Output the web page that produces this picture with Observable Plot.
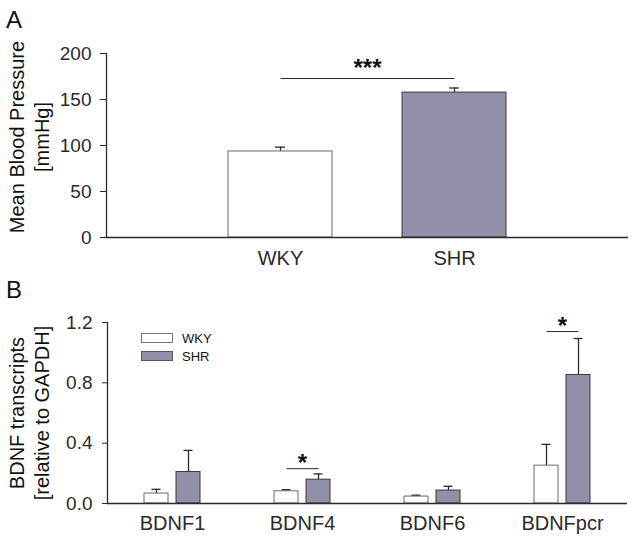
<!DOCTYPE html>
<html><head><meta charset="utf-8">
<script src="https://cdn.jsdelivr.net/npm/d3@7"></script>
<script src="https://cdn.jsdelivr.net/npm/@observablehq/plot@0.6"></script>
<style>
body{margin:0;background:#fff;}
#wrap{position:relative;width:635px;height:542px;font-family:"Liberation Sans",Arial,sans-serif;color:#111;overflow:hidden;}
.abs{position:absolute;}
.letter{position:absolute;font-size:24px;line-height:1;}
.ylab{position:absolute;width:260px;height:50px;transform:rotate(-90deg);text-align:center;font-size:20px;line-height:25px;white-space:nowrap;}
.lbox{position:absolute;width:32px;height:10px;box-sizing:border-box;border:1px solid #666;}
.ltxt{position:absolute;font-size:13px;line-height:1;}
svg{overflow:visible;}
</style></head><body>
<div id="wrap">
  <div class="letter" style="left:6px;top:8px;">A</div>
  <div class="letter" style="left:6px;top:278px;">B</div>
  <div class="ylab" style="left:-100px;top:112px;">Mean Blood Pressure<br>[mmHg]</div>
  <div class="ylab" style="left:-100px;top:388px;">BDNF transcripts<br>[relative to GAPDH]</div>
  <div id="pa" class="abs" style="left:0;top:0;"></div>
  <div id="pb" class="abs" style="left:0;top:270px;"></div>
  <div class="lbox" style="left:141px;top:333px;background:#fff;border-color:#777;"></div>
  <div class="lbox" style="left:141px;top:351px;background:#9090a8;border-color:#555;"></div>
  <div class="ltxt" style="left:182px;top:332px;">WKY</div>
  <div class="ltxt" style="left:182px;top:350px;">SHR</div>
</div>
<script>
// ---- Panel A data ----
const groupsA = ["WKY", "SHR"];
const meanBP = [93.5, 157.5];
const semBP = [4.7, 5.0];
const yTicksA = [0, 50, 100, 150, 200];
const sigAFrom = ["WKY"], sigATo = ["SHR"], sigAY = [172.8], sigALabel = ["***"];

// ---- Panel B data ----
const genes = ["BDNF1", "BDNF4", "BDNF6", "BDNFpcr"];
const strains = ["WKY", "SHR"];
const wkyVal = [0.066, 0.081, 0.046, 0.251];
const wkyErr = [0.028, 0.011, 0.009, 0.141];
const shrVal = [0.209, 0.158, 0.086, 0.852];
const shrErr = [0.143, 0.038, 0.028, 0.242];
const yTicksB = [0, 0.4, 0.8, 1.2];
const sigBGene = ["BDNF4", "BDNFpcr"], sigBY = [0.231, 1.14], sigBLabel = ["*", "*"];

// ---- styles ----
const fillOf = {WKY: "#ffffff", SHR: "#9090a8"};
const strokeOf = {WKY: "#6a6a6a", SHR: "#3a3a3a"};
const ink = "#2a2a2a";
const font = "Liberation Sans, Arial, sans-serif";

const dataA = groupsA.map((g, i) => ({group: g, mean: meanBP[i], sem: semBP[i]}));
const sigA = sigAY.map((y, i) => ({from: sigAFrom[i], to: sigATo[i], y, label: sigALabel[i]}));

const plotA = Plot.plot({
  width: 635, height: 270,
  marginTop: 53, marginBottom: 33, marginLeft: 106, marginRight: 7,
  style: {fontFamily: font, color: ink, background: "transparent", overflow: "visible"},
  x: {type: "band", domain: groupsA, paddingInner: 0.4, paddingOuter: 0.7, axis: null},
  y: {domain: [0, 200], axis: null},
  color: {type: "identity"},
  marks: [
    Plot.ruleX(dataA, {x: "group", y1: "mean", y2: d => d.mean + d.sem, stroke: ink, strokeWidth: 1.3}),
    Plot.tickY(dataA, {x: "group", y: d => d.mean + d.sem, stroke: ink, strokeWidth: 1.3, insetLeft: 47, insetRight: 47}),
    Plot.barY(dataA, {x: "group", y: "mean", fill: d => fillOf[d.group], stroke: d => strokeOf[d.group], strokeWidth: 1}),
    Plot.ruleY([0], {stroke: ink, strokeWidth: 1.3}),
    Plot.frame({anchor: "left", stroke: ink, strokeWidth: 1.3}),
    Plot.axisY({ticks: yTicksA, tickSize: 6, tickPadding: 9, fontSize: 19, label: null}),
    Plot.axisX({tickSize: 0, tickPadding: 13, fontSize: 20, label: null}),
    Plot.link(sigA, {x1: "from", x2: "to", y1: "y", y2: "y", stroke: ink, strokeWidth: 1}),
    Plot.text(sigA, {y: "y", text: "label", frameAnchor: "middle", lineAnchor: "bottom", dy: -3, fontSize: 24, fontWeight: "bold", fill: "#111"})
  ]
});
document.getElementById("pa").appendChild(plotA);

const dataB = genes.flatMap((g, i) => [
  {gene: g, strain: "WKY", value: wkyVal[i], err: wkyErr[i]},
  {gene: g, strain: "SHR", value: shrVal[i], err: shrErr[i]}
]);
const sigB = sigBGene.map((g, i) => ({gene: g, from: "WKY", to: "SHR", y: sigBY[i], label: sigBLabel[i]}));

const plotB = Plot.plot({
  width: 635, height: 272,
  marginTop: 52, marginBottom: 39, marginLeft: 105, marginRight: 7,
  style: {fontFamily: font, color: ink, background: "transparent", overflow: "visible"},
  fx: {domain: genes, paddingInner: 0, paddingOuter: 0},
  x: {domain: strains, paddingInner: 0.24, paddingOuter: 1.1, axis: null},
  y: {domain: [0, 1.2], axis: null},
  color: {type: "identity"},
  marks: [
    Plot.ruleX(dataB, {fx: "gene", x: "strain", y1: "value", y2: d => d.value + d.err, stroke: ink, strokeWidth: 1.3}),
    Plot.tickY(dataB, {fx: "gene", x: "strain", y: d => d.value + d.err, stroke: ink, strokeWidth: 1.3, insetLeft: 7.5, insetRight: 7.5}),
    Plot.barY(dataB, {fx: "gene", x: "strain", y: "value", fill: d => fillOf[d.strain], stroke: d => strokeOf[d.strain], strokeWidth: 1}),
    Plot.ruleY([0], {stroke: ink, strokeWidth: 1.3}),
    Plot.frame({anchor: "left", facetAnchor: "left", stroke: ink, strokeWidth: 1.3}),
    Plot.axisY({ticks: yTicksB, tickFormat: d => d.toFixed(1), tickSize: 5, tickPadding: 10, fontSize: 19, label: null}),
    Plot.axisFx({anchor: "bottom", tickSize: 0, tickPadding: 12, fontSize: 20, label: null}),
    Plot.link(sigB, {fx: "gene", x1: "from", x2: "to", y1: "y", y2: "y", stroke: ink, strokeWidth: 1}),
    Plot.text(sigB, {fx: "gene", y: "y", text: "label", frameAnchor: "middle", lineAnchor: "bottom", dy: 2, fontSize: 24, fontWeight: "bold", fill: "#111"})
  ]
});
document.getElementById("pb").appendChild(plotB);
</script>
</body></html>
